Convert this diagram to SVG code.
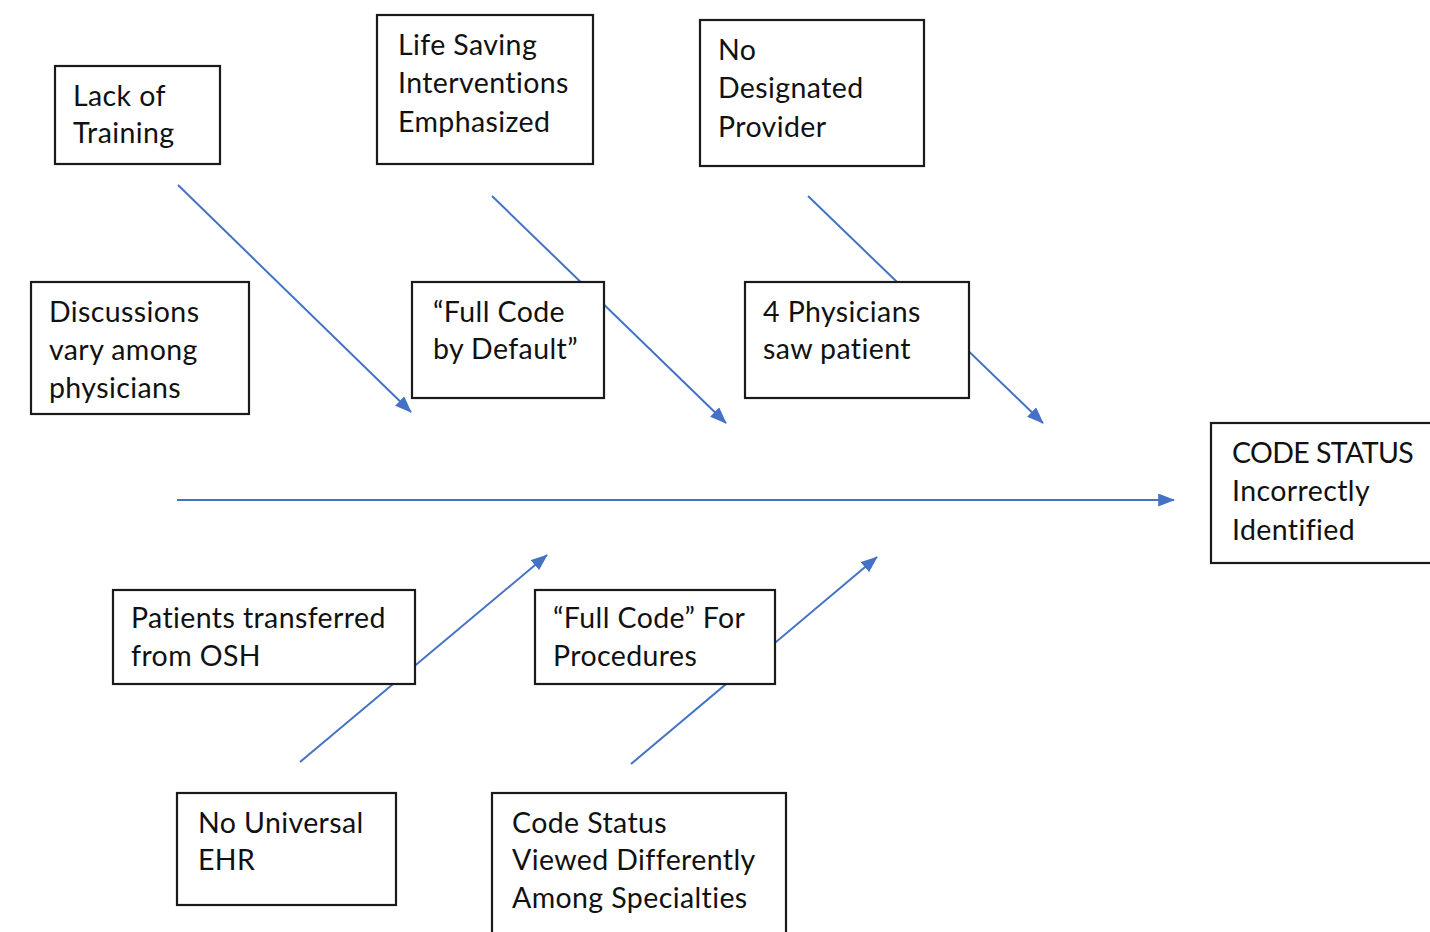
<svg xmlns="http://www.w3.org/2000/svg" width="1430" height="932" viewBox="0 0 1430 932">
<style>
.box rect{fill:#fff;stroke:#1a1a1a;stroke-width:2.2}
.box text{font-family:Lato,"Open Sans",sans-serif;font-size:28.5px;letter-spacing:0.4px;fill:#111}
.box text.caps{letter-spacing:-0.6px}
.conn line{stroke:#4472C4;stroke-width:2}
</style>
<defs>
<marker id="ah" viewBox="0 0 18 14" refX="17" refY="7" markerWidth="17" markerHeight="13" markerUnits="userSpaceOnUse" orient="auto">
<path d="M0,0 L18,7 L0,14 Z" fill="#4472C4"/>
</marker>
</defs>
<rect width="1430" height="932" fill="#fff"/>
<g id="connectors" class="conn">
<line x1="177" y1="500" x2="1174" y2="500" marker-end="url(#ah)"/>
<line x1="178" y1="185" x2="411" y2="412" marker-end="url(#ah)"/>
<line x1="492" y1="196" x2="726" y2="423" marker-end="url(#ah)"/>
<line x1="808" y1="196" x2="1043" y2="423" marker-end="url(#ah)"/>
<line x1="300" y1="762" x2="547" y2="555" marker-end="url(#ah)"/>
<line x1="631" y1="764" x2="877" y2="557" marker-end="url(#ah)"/>
</g>
<g id="lack-of-training" class="box">
<rect x="55" y="66" width="165" height="98"/>
<text x="73" y="106">Lack of</text>
<text x="73" y="143">Training</text>
</g>
<g id="life-saving" class="box">
<rect x="377" y="15" width="216" height="149"/>
<text x="398" y="55">Life Saving</text>
<text x="398" y="93">Interventions</text>
<text x="398" y="132">Emphasized</text>
</g>
<g id="no-designated" class="box">
<rect x="700" y="20" width="224" height="146"/>
<text x="718" y="60">No</text>
<text x="718" y="98">Designated</text>
<text x="718" y="137">Provider</text>
</g>
<g id="discussions" class="box">
<rect x="31" y="282" width="218" height="132"/>
<text x="49" y="322">Discussions</text>
<text x="49" y="360">vary among</text>
<text x="49" y="398">physicians</text>
</g>
<g id="full-code-default" class="box">
<rect x="412" y="282" width="192" height="116"/>
<text x="433" y="322">“Full Code</text>
<text x="433" y="359">by Default”</text>
</g>
<g id="four-physicians" class="box">
<rect x="745" y="282" width="224" height="116"/>
<text x="763" y="322">4 Physicians</text>
<text x="763" y="359">saw patient</text>
</g>
<g id="code-status" class="box">
<rect x="1211" y="423" width="224" height="140"/>
<text class="caps" x="1232" y="463">CODE STATUS</text>
<text x="1232" y="501">Incorrectly</text>
<text x="1232" y="540">Identified</text>
</g>
<g id="patients-transferred" class="box">
<rect x="113" y="590" width="302" height="94"/>
<text x="131" y="628">Patients transferred</text>
<text x="131" y="666">from OSH</text>
</g>
<g id="full-code-procedures" class="box">
<rect x="535" y="590" width="240" height="94"/>
<text x="553" y="628">“Full Code” For</text>
<text x="553" y="666">Procedures</text>
</g>
<g id="no-universal-ehr" class="box">
<rect x="177" y="793" width="219" height="112"/>
<text x="198" y="833">No Universal</text>
<text x="198" y="870">EHR</text>
</g>
<g id="code-status-viewed" class="box">
<rect x="492" y="793" width="294" height="145"/>
<text x="512" y="833">Code Status</text>
<text x="512" y="870">Viewed Differently</text>
<text x="512" y="908">Among Specialties</text>
</g>
</svg>
